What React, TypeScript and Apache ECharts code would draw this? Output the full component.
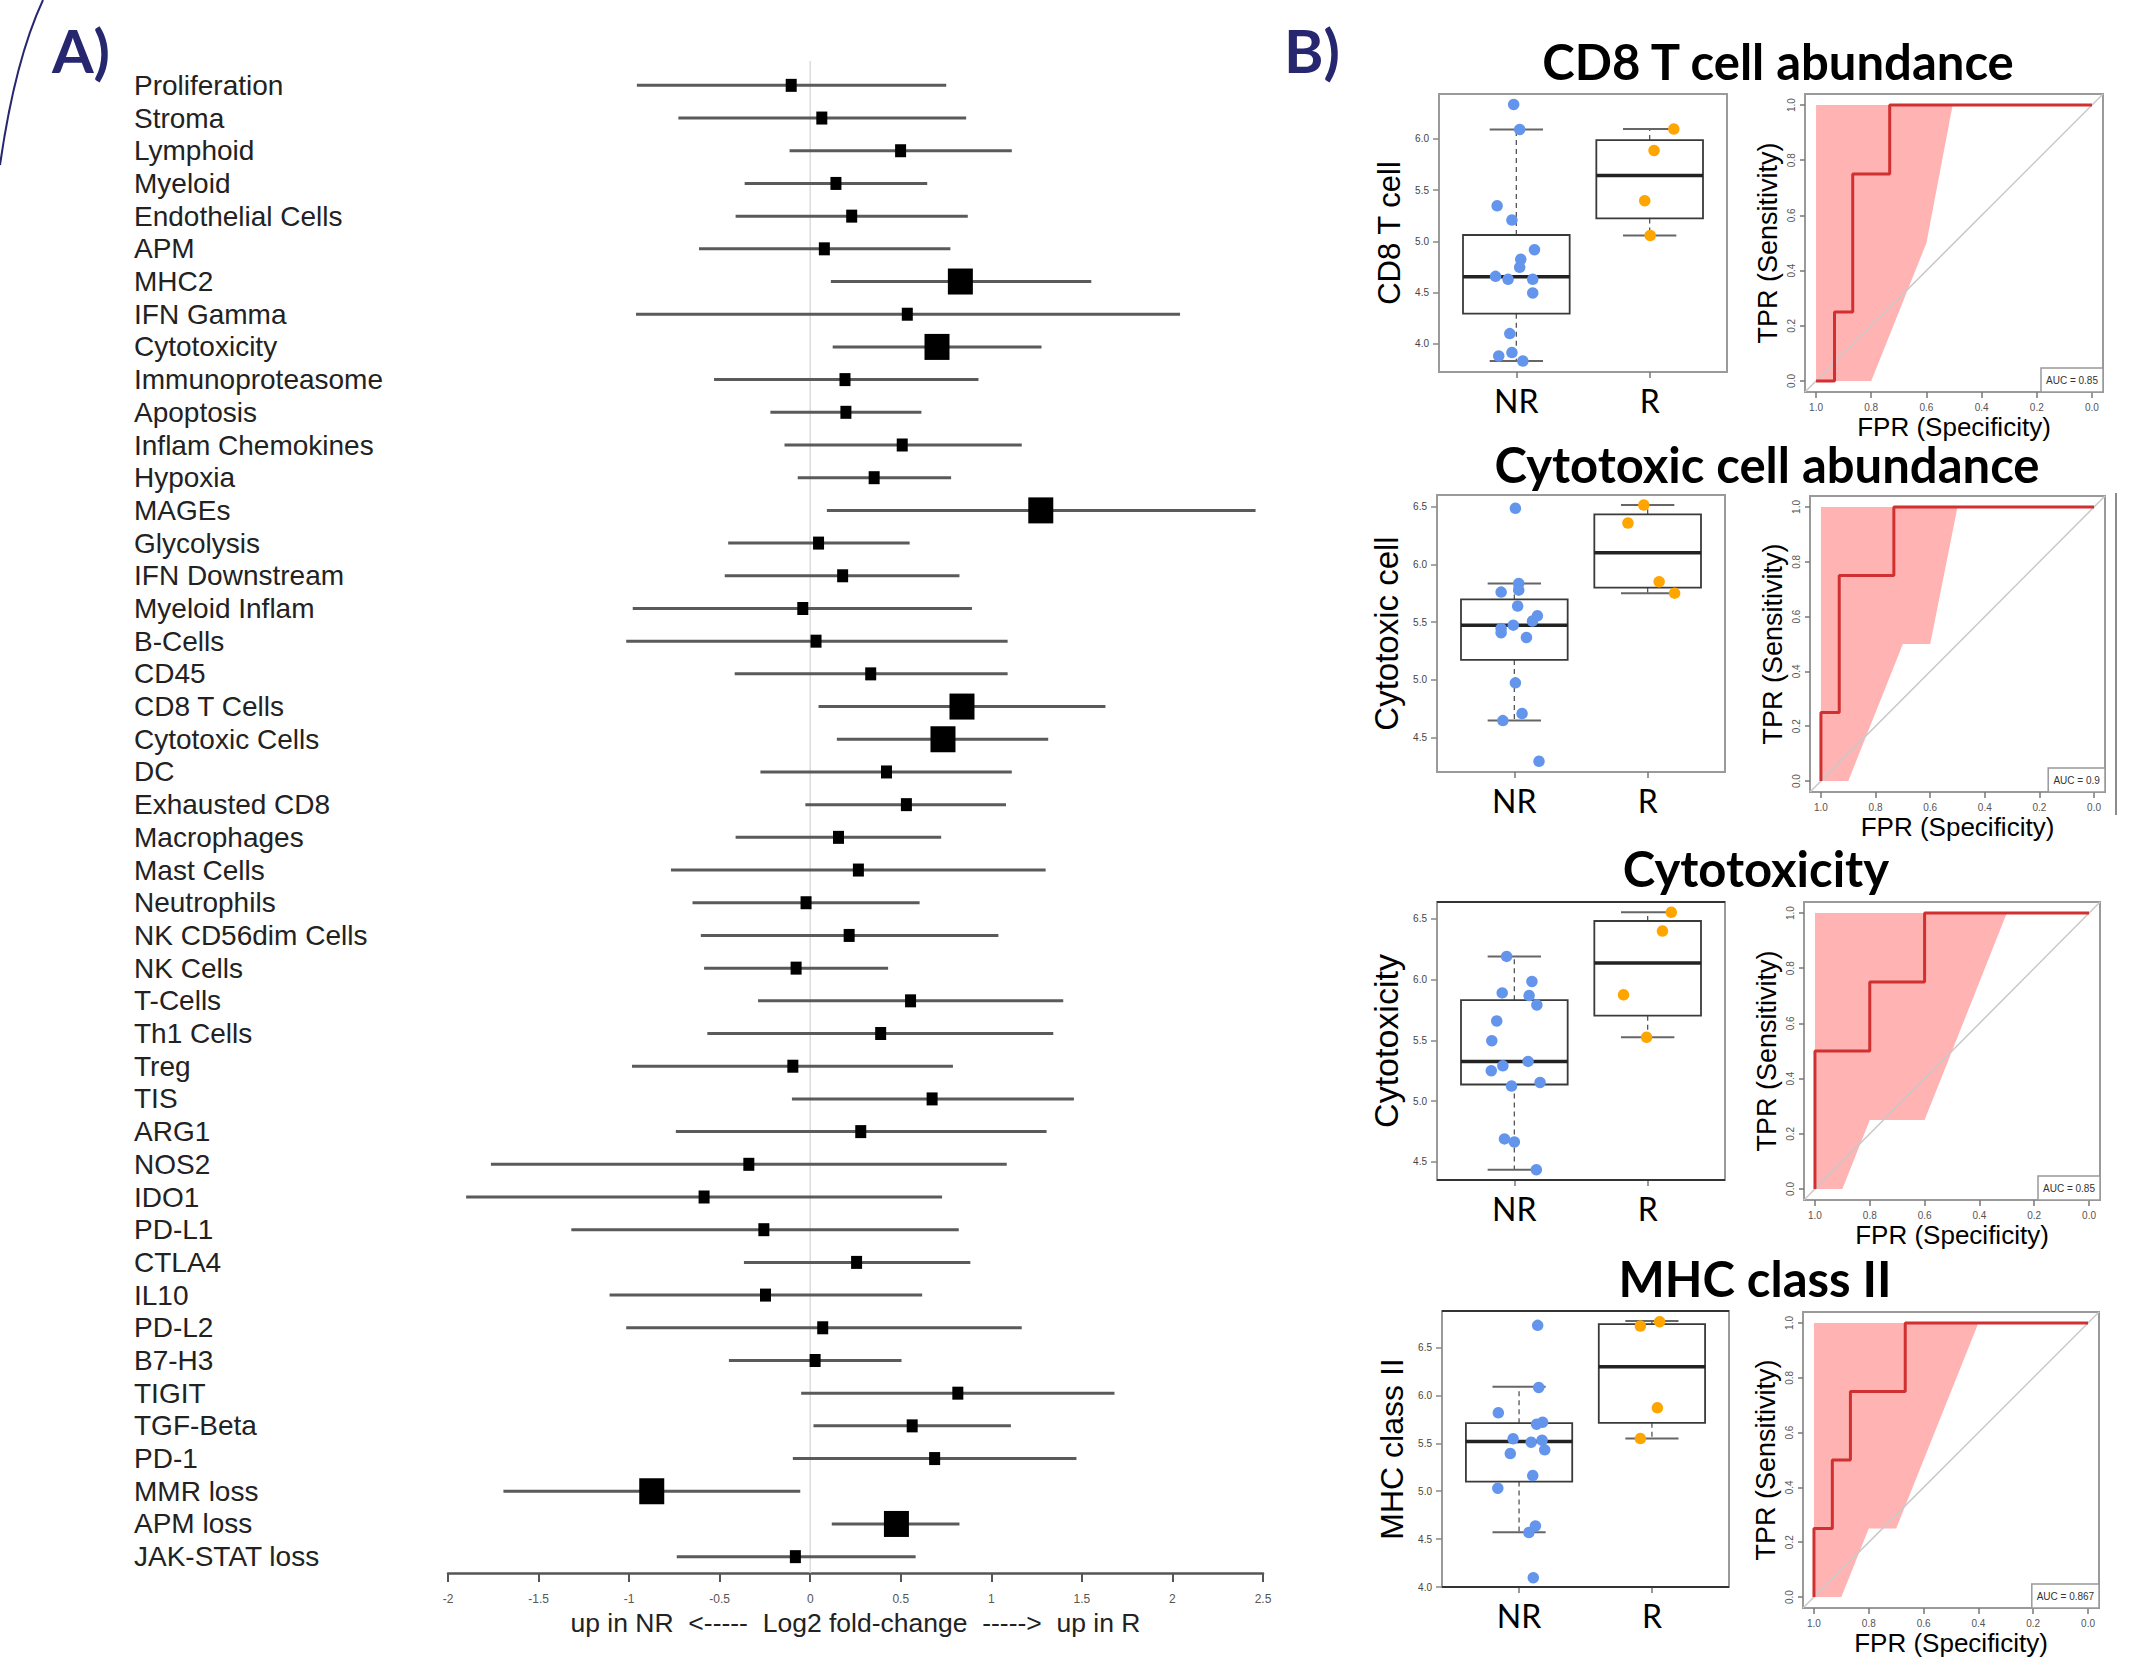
import React, { useEffect, useRef } from "react";
import * as echarts from "echarts";

// ---------------- Panel A data (forest plot) ----------------
const signatures = ["Proliferation","Stroma","Lymphoid","Myeloid","Endothelial Cells","APM","MHC2","IFN Gamma","Cytotoxicity","Immunoproteasome","Apoptosis","Inflam Chemokines","Hypoxia","MAGEs","Glycolysis","IFN Downstream","Myeloid Inflam","B-Cells","CD45","CD8 T Cells","Cytotoxic Cells","DC","Exhausted CD8","Macrophages","Mast Cells","Neutrophils","NK CD56dim Cells","NK Cells","T-Cells","Th1 Cells","Treg","TIS","ARG1","NOS2","IDO1","PD-L1","CTLA4","IL10","PD-L2","B7-H3","TIGIT","TGF-Beta","PD-1","MMR loss","APM loss","JAK-STAT loss"];
const log2fc = [-0.105,0.064,0.499,0.142,0.229,0.078,0.829,0.536,0.70,0.192,0.197,0.508,0.353,1.273,0.046,0.179,-0.041,0.032,0.334,0.838,0.733,0.421,0.531,0.156,0.266,-0.023,0.215,-0.078,0.554,0.389,-0.096,0.673,0.279,-0.339,-0.586,-0.256,0.256,-0.247,0.069,0.027,0.815,0.563,0.687,-0.875,0.476,-0.082];
const ciLow = [-0.957,-0.728,-0.114,-0.362,-0.412,-0.614,0.114,-0.962,0.124,-0.531,-0.22,-0.142,-0.069,0.092,-0.453,-0.472,-0.98,-1.016,-0.417,0.046,0.147,-0.275,-0.027,-0.412,-0.769,-0.65,-0.604,-0.586,-0.288,-0.568,-0.984,-0.101,-0.742,-1.763,-1.9,-1.319,-0.366,-1.108,-1.016,-0.449,-0.05,0.018,-0.096,-1.694,0.119,-0.737];
const ciHigh = [0.751,0.861,1.113,0.646,0.870,0.774,1.552,2.042,1.277,0.929,0.614,1.168,0.778,2.459,0.549,0.824,0.893,1.09,1.09,1.63,1.314,1.113,1.081,0.723,1.30,0.604,1.039,0.43,1.397,1.342,0.788,1.456,1.305,1.085,0.728,0.82,0.884,0.618,1.168,0.504,1.68,1.108,1.47,-0.055,0.824,0.582];
const significant = ["MHC2","Cytotoxicity","MAGEs","CD8 T Cells","Cytotoxic Cells","MMR loss","APM loss"];
const forestTicks = [-2, 2.5, 0.5]; // min, max, step
const forestAxisTitle = "up in NR\u00A0\u00A0<-----\u00A0\u00A0Log2 fold-change\u00A0\u00A0----->\u00A0\u00A0up in R";

// ---------------- Panel B data ----------------
const panelTitles = ["CD8 T cell abundance", "Cytotoxic cell abundance", "Cytotoxicity", "MHC class II"];
const yTitles = ["CD8 T cell", "Cytotoxic cell", "Cytotoxicity", "MHC class II"];
const groups = ["NR", "R"];

const nrValues = [
  [6.334,6.091,5.347,5.208,4.919,4.825,4.747,4.659,4.630,4.630,4.497,4.101,3.883,3.916,3.834],
  [6.486,5.835,5.777,5.760,5.639,5.555,5.509,5.474,5.445,5.408,5.367,4.974,4.708,4.647,4.295],
  [6.190,5.984,5.890,5.868,5.791,5.659,5.497,5.327,5.291,5.250,5.154,5.124,4.690,4.665,4.437],
  [6.730,6.082,5.818,5.720,5.699,5.546,5.532,5.511,5.431,5.393,5.163,5.031,4.637,4.568,4.097],
];
const nrJitter = [
  [0.98,1.025,0.856,0.967,1.136,1.033,1.025,0.844,0.938,1.123,1.123,0.951,0.868,0.967,1.049],
  [1.008,1.033,1.033,0.901,1.025,1.173,1.136,0.992,0.901,0.901,1.091,1.008,1.058,0.914,1.185],
  [0.942,1.132,0.909,1.111,1.169,0.868,0.831,1.103,0.914,0.827,1.193,0.979,0.926,1.0,1.165],
  [1.14,1.148,0.844,1.177,1.132,0.955,1.173,1.091,1.193,0.934,1.103,0.84,1.123,1.074,1.107],
];
const rValues = [
  [6.094,5.886,5.396,5.058],
  [6.514,6.358,5.850,5.751],
  [6.552,6.398,5.874,5.525],
  [6.723,6.768,5.870,5.549],
];
const rJitter = [
  [2.181,2.033,1.963,2.004],
  [1.971,1.852,2.086,2.202],
  [2.177,2.111,1.819,1.992],
  [1.913,2.058,2.041,1.913],
];
// [lower whisker, Q1, median, Q3, upper whisker]
const boxNR = [
  [3.834,4.295,4.656,5.062,6.091],
  [4.647,5.173,5.474,5.697,5.835],
  [4.437,5.137,5.327,5.830,6.190],
  [4.571,5.100,5.518,5.710,6.089],
];
const boxR = [
  [5.058,5.224,5.643,5.987,6.094],
  [5.751,5.798,6.101,6.434,6.514],
  [5.525,5.703,6.135,6.481,6.552],
  [5.549,5.713,6.298,6.744,6.775],
];
const boxYMin = [3.727, 4.202, 4.352, 4.0];
const boxYMax = [6.436, 6.601, 6.637, 6.88];
const boxTicks = [
  [4.0,4.5,5.0,5.5,6.0],
  [4.5,5.0,5.5,6.0,6.5],
  [4.5,5.0,5.5,6.0,6.5],
  [4.0,4.5,5.0,5.5,6.0,6.5],
];

// ROC: [specificity, sensitivity]
const rocCurves = [
  [[1,0],[0.933,0],[0.933,0.25],[0.867,0.25],[0.867,0.75],[0.733,0.75],[0.733,1],[0,1]],
  [[1,0],[1,0.25],[0.933,0.25],[0.933,0.75],[0.733,0.75],[0.733,1],[0,1]],
  [[1,0],[1,0.5],[0.8,0.5],[0.8,0.75],[0.6,0.75],[0.6,1],[0,1]],
  [[1,0],[1,0.25],[0.933,0.25],[0.933,0.5],[0.867,0.5],[0.867,0.75],[0.667,0.75],[0.667,1],[0,1]],
];
const ciBands = [
  [[1,0],[1,1],[0.505,1],[0.6,0.5],[0.8,0]],
  [[1,0],[1,1],[0.5,1],[0.6,0.5],[0.7,0.5],[0.9,0]],
  [[1,0],[1,1],[0.3,1],[0.6,0.25],[0.8,0.25],[0.9,0]],
  [[1,0],[1,1],[0.4,1],[0.7,0.25],[0.8,0.25],[0.9,0]],
];
const aucLabels = ["AUC = 0.85", "AUC = 0.9", "AUC = 0.85", "AUC = 0.867"];
const rocTicks = [0, 0.2, 0.4, 0.6, 0.8, 1.0];

const ARIAL = "'Liberation Sans', Arial, Helvetica, sans-serif";
const CALIBRI = "Lato, 'Open Sans', sans-serif";
const NAVY = "#27276F";

const boxGrids = [
  { left: 1439, top: 94, width: 288, height: 278 },
  { left: 1437, top: 495, width: 288, height: 277 },
  { left: 1437, top: 902, width: 288, height: 278 },
  { left: 1442, top: 1311, width: 287, height: 276 },
];
const rocGrids = [
  { left: 1805, top: 94, width: 298, height: 298 },
  { left: 1810, top: 496, width: 295, height: 296 },
  { left: 1804, top: 902, width: 296, height: 298 },
  { left: 1803, top: 1312, width: 296, height: 296 },
];
const titlePos = [[1778, 61], [1767, 464], [1756, 868], [1755, 1278]];
const yTitleSize = [31, 33, 34, 32];
const darkFrame = [false, false, true, true];

export default function App() {
  const ref = useRef<HTMLDivElement>(null);
  useEffect(() => {
    const chart = echarts.init(ref.current!, null, { renderer: "svg" });
    const grid: any[] = [];
    const xAxis: any[] = [];
    const yAxis: any[] = [];
    const series: any[] = [];

    // ---------- Forest plot ----------
    grid.push({ left: 448, width: 815, top: 69, height: 1504, outerBoundsMode: "none", containLabel: false });
    xAxis.push({
      type: "value", gridIndex: 0, min: forestTicks[0], max: forestTicks[1], interval: forestTicks[2],
      axisLine: { show: true, onZero: false, lineStyle: { color: "#555", width: 2.5 } },
      axisTick: { show: true, length: 9, lineStyle: { color: "#555", width: 2 } },
      axisLabel: { fontSize: 12, color: "#555", margin: 20, fontFamily: ARIAL, formatter: (v: number) => String(v) },
      splitLine: { show: false },
      name: forestAxisTitle, nameLocation: "middle", nameGap: 35,
      nameTextStyle: { fontSize: 26.5, color: "#222", fontFamily: ARIAL },
    });
    yAxis.push({
      type: "category", gridIndex: 0, data: signatures, inverse: true,
      axisLine: { show: false, onZero: false }, axisTick: { show: false }, splitLine: { show: false },
      axisLabel: { interval: 0, align: "left", margin: 314, fontSize: 28, color: "#222", fontFamily: ARIAL },
    });
    series.push({
      type: "custom", xAxisIndex: 0, yAxisIndex: 0, silent: true,
      data: [[0, 0]],
      renderItem: (params: any, api: any) => {
        const x = api.coord([0, 0])[0];
        const cs = params.coordSys;
        return { type: "line", shape: { x1: x, y1: cs.y - 8, x2: x, y2: cs.y + cs.height }, style: { stroke: "#dcdcdc", lineWidth: 1.5 } };
      },
      clip: false, z: 1,
    });
    series.push({
      type: "custom", xAxisIndex: 0, yAxisIndex: 0, silent: true, z: 2,
      encode: { x: [0, 2, 3], y: 1 },
      data: signatures.map((s, i) => [log2fc[i], i, ciLow[i], ciHigh[i], significant.includes(s) ? 1 : 0]),
      renderItem: (params: any, api: any) => {
        const idx = api.value(1);
        const c = api.coord([api.value(0), idx]);
        const lo = api.coord([api.value(2), idx]);
        const hi = api.coord([api.value(3), idx]);
        const big = api.value(4) === 1;
        const w = big ? 25 : 11;
        const h = big ? 26 : 13;
        return {
          type: "group",
          children: [
            { type: "line", shape: { x1: lo[0], y1: c[1], x2: hi[0], y2: c[1] }, style: { stroke: "#5a5a5a", lineWidth: 3 } },
            { type: "rect", shape: { x: c[0] - w / 2, y: c[1] - h / 2, width: w, height: h }, style: { fill: "#000" } },
          ],
        };
      },
    });

    // ---------- Panel B ----------
    for (let i = 0; i < 4; i++) {
      const gb = grid.length;
      grid.push({ ...boxGrids[i], show: true, borderColor: "#9a9a9a", borderWidth: 2, backgroundColor: "transparent", outerBoundsMode: "none", containLabel: false });
      xAxis.push({
        type: "value", gridIndex: gb, min: 0.42, max: 2.58,
        axisLine: { show: false, onZero: false }, splitLine: { show: false },
        axisTick: { show: true, customValues: [1, 2], length: 6, lineStyle: { color: "#777", width: 1.5 } },
        axisLabel: { customValues: [1, 2], formatter: (v: number) => groups[Math.round(v) - 1], fontSize: 32, color: "#000", fontFamily: CALIBRI, margin: 12 },
      });
      yAxis.push({
        type: "value", gridIndex: gb, min: boxYMin[i], max: boxYMax[i],
        axisLine: { show: false, onZero: false }, splitLine: { show: false },
        axisTick: { show: true, customValues: boxTicks[i], length: 6, lineStyle: { color: "#888", width: 1.5 } },
        axisLabel: { customValues: boxTicks[i], formatter: (v: number) => v.toFixed(1), fontSize: 10, color: "#444", fontFamily: ARIAL, margin: 10 },
        name: yTitles[i], nameLocation: "middle", nameRotate: 90, nameGap: 34,
        nameTextStyle: { fontSize: yTitleSize[i], color: "#000", fontFamily: ARIAL },
      });
      const dark = darkFrame[i];
      series.push({
        type: "custom", xAxisIndex: gb, yAxisIndex: gb, silent: true, z: 2, clip: false,
        encode: { x: 0, y: [1, 2, 3, 4, 5] },
        data: [[1, ...boxNR[i]], [2, ...boxR[i]]],
        renderItem: (params: any, api: any) => {
          const x = api.value(0);
          const low = api.value(1), q1 = api.value(2), med = api.value(3), q3 = api.value(4), high = api.value(5);
          const tl = api.coord([x - 0.4, q3]);
          const br = api.coord([x + 0.4, q1]);
          const xm = api.coord([x, med]);
          const capL = api.coord([x - 0.2, high])[0];
          const capR = api.coord([x + 0.2, high])[0];
          const yHigh = api.coord([x, high])[1];
          const yLow = api.coord([x, low])[1];
          const children: any[] = [
            { type: "line", shape: { x1: xm[0], y1: tl[1], x2: xm[0], y2: yHigh }, style: { stroke: "#555", lineWidth: 1.3, lineDash: [5, 4] } },
            { type: "line", shape: { x1: xm[0], y1: br[1], x2: xm[0], y2: yLow }, style: { stroke: "#555", lineWidth: 1.3, lineDash: [5, 4] } },
            { type: "line", shape: { x1: capL, y1: yHigh, x2: capR, y2: yHigh }, style: { stroke: "#666", lineWidth: 2 } },
            { type: "line", shape: { x1: capL, y1: yLow, x2: capR, y2: yLow }, style: { stroke: "#666", lineWidth: 2 } },
            { type: "rect", shape: { x: tl[0], y: tl[1], width: br[0] - tl[0], height: br[1] - tl[1] }, style: { fill: "#fff", stroke: "#3a3a3a", lineWidth: 1.8 } },
            { type: "line", shape: { x1: tl[0], y1: xm[1], x2: br[0], y2: xm[1] }, style: { stroke: "#222", lineWidth: 3.5 } },
          ];
          if (dark && params.dataIndex === 0) {
            const cs = params.coordSys;
            children.push({ type: "line", shape: { x1: cs.x, y1: cs.y, x2: cs.x + cs.width, y2: cs.y }, style: { stroke: "#333", lineWidth: 2.2 } });
            children.push({ type: "line", shape: { x1: cs.x, y1: cs.y + cs.height, x2: cs.x + cs.width, y2: cs.y + cs.height }, style: { stroke: "#333", lineWidth: 2.2 } });
          }
          return { type: "group", children };
        },
      });
      series.push({
        type: "scatter", xAxisIndex: gb, yAxisIndex: gb, silent: true, z: 4,
        symbolSize: 11.5, itemStyle: { color: "#6495ED", opacity: 1 },
        data: nrValues[i].map((v, k) => [nrJitter[i][k], v]),
      });
      series.push({
        type: "scatter", xAxisIndex: gb, yAxisIndex: gb, silent: true, z: 4,
        symbolSize: 11.5, itemStyle: { color: "#FFA500", opacity: 1 },
        data: rValues[i].map((v, k) => [rJitter[i][k], v]),
      });

      // ROC
      const gr = grid.length;
      grid.push({ ...rocGrids[i], show: true, borderColor: "#9a9a9a", borderWidth: 2, backgroundColor: "transparent", outerBoundsMode: "none", containLabel: false });
      xAxis.push({
        type: "value", gridIndex: gr, min: -0.04, max: 1.04, inverse: true,
        axisLine: { show: false, onZero: false }, splitLine: { show: false },
        axisTick: { show: true, customValues: rocTicks, length: 6, lineStyle: { color: "#777", width: 1.5 } },
        axisLabel: { customValues: rocTicks, formatter: (v: number) => v.toFixed(1), fontSize: 10, color: "#555", fontFamily: ARIAL, margin: 10 },
        name: "FPR (Specificity)", nameLocation: "middle", nameGap: 22,
        nameTextStyle: { fontSize: 26, color: "#000", fontFamily: ARIAL },
      });
      yAxis.push({
        type: "value", gridIndex: gr, min: -0.04, max: 1.04,
        axisLine: { show: false, onZero: false }, splitLine: { show: false },
        axisTick: { show: true, customValues: rocTicks, length: 5, lineStyle: { color: "#777", width: 1.5 } },
        axisLabel: { customValues: rocTicks, formatter: (v: number) => v.toFixed(1), rotate: 90, fontSize: 10, color: "#555", fontFamily: ARIAL, margin: 9 },
        name: "TPR (Sensitivity)", nameLocation: "middle", nameRotate: 90, nameGap: 24,
        nameTextStyle: { fontSize: 27, color: "#000", fontFamily: ARIAL },
      });
      const band = ciBands[i];
      series.push({
        type: "custom", xAxisIndex: gr, yAxisIndex: gr, silent: true, z: 1,
        encode: { x: 0, y: 1 },
        data: band,
        renderItem: (params: any, api: any) => {
          if (params.dataIndex !== 0) return null;
          return { type: "polygon", shape: { points: band.map((p) => api.coord(p)) }, style: { fill: "#FFB3B3" } };
        },
      });
      series.push({
        type: "line", xAxisIndex: gr, yAxisIndex: gr, silent: true, z: 2, symbol: "none",
        lineStyle: { color: "#c8c8c8", width: 1.5 },
        data: [[1.04, -0.04], [-0.04, 1.04]],
      });
      series.push({
        type: "line", xAxisIndex: gr, yAxisIndex: gr, silent: true, z: 3, symbol: "none",
        lineStyle: { color: "#D03030", width: 3 },
        data: rocCurves[i],
      });
      const auc = aucLabels[i];
      series.push({
        type: "custom", xAxisIndex: gr, yAxisIndex: gr, silent: true, z: 5, clip: false,
        encode: { x: 0, y: 1 },
        data: [[-0.04, -0.04]],
        renderItem: (params: any, api: any) => {
          const c = api.coord([api.value(0), api.value(1)]);
          const w = 10 + auc.length * 5.2;
          const h = 24;
          return {
            type: "group",
            children: [
              { type: "rect", shape: { x: c[0] - w, y: c[1] - h, width: w, height: h }, style: { fill: "#fff", stroke: "#999", lineWidth: 1.5 } },
              { type: "text", x: c[0] - w / 2, y: c[1] - h / 2, style: { text: auc, align: "center", verticalAlign: "middle", fontSize: 10, fill: "#333", fontFamily: ARIAL } },
            ],
          };
        },
      });
    }

    const graphic: any[] = [
      { type: "bezierCurve", shape: { x1: 43, y1: 0, cpx1: 15, cpy1: 60, x2: 0, y2: 165 }, style: { stroke: NAVY, lineWidth: 2, fill: "none" } },
      { type: "text", x: 81, y: 50, style: { text: "A)", align: "center", verticalAlign: "middle", fontSize: 60, fontWeight: "bold", fill: NAVY, fontFamily: CALIBRI } },
      { type: "text", x: 1312, y: 50, style: { text: "B)", align: "center", verticalAlign: "middle", fontSize: 60, fontWeight: "bold", fill: NAVY, fontFamily: CALIBRI } },
      { type: "line", shape: { x1: 2116, y1: 493, x2: 2116, y2: 815 }, style: { stroke: "#666", lineWidth: 1.5 } },
      ...panelTitles.map((t, i) => ({
        type: "text", x: titlePos[i][0], y: titlePos[i][1],
        style: { text: t, align: "center", verticalAlign: "middle", fontSize: 49, fontWeight: "bold", fill: "#000", fontFamily: CALIBRI },
      })),
    ];

    chart.setOption({ animation: false, backgroundColor: "#fff", grid, xAxis, yAxis, series, graphic });
    return () => chart.dispose();
  }, []);
  return <div ref={ref} style={{ position: "fixed", left: 0, top: 0, width: 2130, height: 1659 }} />;
}
